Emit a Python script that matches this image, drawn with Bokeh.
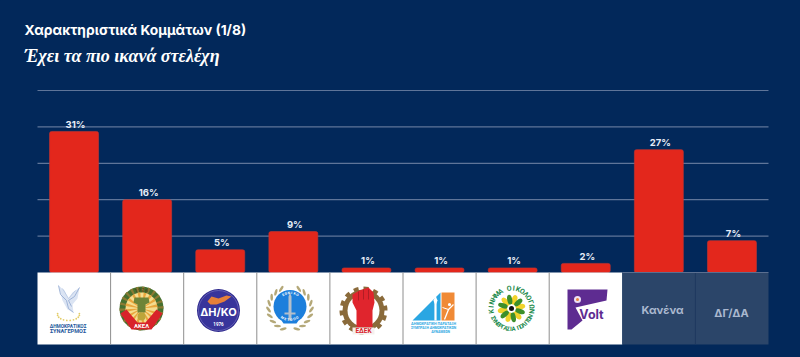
from bokeh.plotting import figure
from bokeh.models import Label, ColumnDataSource
from bokeh.core.properties import value
from bokeh.embed import file_html
from bokeh.resources import INLINE
import numpy as np

TITLE = "Χαρακτηριστικά Κομμάτων (1/8)"
SUBTITLE = "Έχει τα πιο ικανά στελέχη"
parties = ["ΔΗΣΥ", "ΑΚΕΛ", "ΔΗΚΟ", "ΕΛΑΜ", "ΕΔΕΚ", "ΔΗΠΑ", "Οικολόγοι", "Volt", "Κανένα", "ΔΓ/ΔΑ"]
values = [31, 16, 5, 9, 1, 1, 1, 2, 27, 7]
labels = ["31%", "16%", "5%", "9%", "1%", "1%", "1%", "2%", "27%", "7%"]
grid_ticks = [8, 16, 24, 32, 40]
text_cells = ["Κανένα", "ΔΓ/ΔΑ"]

BG = "#02285a"
W, H = 800, 357
LEFT, RIGHT = 37, 32
PX_Y = 4.55      # pixels per percent
BASE = 272       # page y of the baseline
CW = (W - LEFT - RIGHT) / 10

p = figure(width=W, height=H, output_backend="svg", toolbar_location=None,
           x_range=(-LEFT / CW, 10 + RIGHT / CW), y_range=(-(H - BASE) / PX_Y, BASE / PX_Y),
           min_border_left=0, min_border_right=0, min_border_top=0, min_border_bottom=0,
           background_fill_color=BG, border_fill_color=BG, outline_line_color=None)
p.xaxis.visible = False
p.yaxis.visible = False
p.xgrid.visible = False
p.ygrid.visible = False

X = lambda page_x: (page_x - LEFT) / CW
Y = lambda page_y: (BASE - page_y) / PX_Y
centers = [i + 0.5 for i in range(10)]

# grid lines spanning only the plot area
n_ticks = len(grid_ticks)
p.segment(x0=[0] * n_ticks, x1=[10] * n_ticks, y0=grid_ticks, y1=grid_ticks,
          line_color="#5f7599", line_width=1.2)

# bars and value labels
src = ColumnDataSource(dict(x=centers, top=values, lab=labels, party=parties))
p.vbar(x="x", top="top", bottom=0, width=0.67, source=src, fill_color="#e3271c",
       line_color="#c9352f", line_width=0.6, border_radius=2)
p.text(x="x", y="top", text="lab", source=src, text_align="center", text_baseline="bottom",
       x_offset=1.5, y_offset=-1.5, text_color="#e6edf7", text_font_size="9.5px",
       text_font=value("Inter"), text_font_style="bold")

# cell strip under the baseline
cell_bottom = Y(344)
p.quad(left=0, right=8, top=0, bottom=cell_bottom, fill_color="white", line_color=None)
p.quad(left=8, right=10, top=0, bottom=cell_bottom, fill_color="#2b4569", line_color=None)
p.segment(x0=list(range(1, 8)), x1=list(range(1, 8)), y0=[0] * 7, y1=[cell_bottom] * 7,
          line_color="#8e8e8e", line_width=1)
p.segment(x0=[9], x1=[9], y0=[0], y1=[cell_bottom], line_color="#1f3960", line_width=1)
p.segment(x0=[8], x1=[10], y0=[0], y1=[0], line_color="#5b6f90", line_width=1)

def circ(x, y, r, **k):
    p.circle(x=[X(x)], y=[Y(y)], radius=[r], radius_units="screen", line_color=k.pop("line_color", None), **k)

def poly(pts, color, **k):
    p.patch(x=[X(a) for a, _ in pts], y=[Y(b) for _, b in pts], fill_color=color, line_color=None, **k)

def polyline(pts, color, width=1):
    p.line(x=[X(a) for a, _ in pts], y=[Y(b) for _, b in pts], line_color=color, line_width=width)

def txt(x, y, s, size, color, angle=0, style="bold", font="Roboto"):
    p.text(x=[X(x)], y=[Y(y)], text=[s], text_align="center", text_baseline="middle", angle=[angle],
           text_font_size=f"{size}px", text_color=color, text_font=value(font), text_font_style=style)

def wedges(cx, cy, r, n, color, a0=0.0, a1=2 * np.pi, frac=0.5):
    step = (a1 - a0) / n
    st = [a0 + step * j for j in range(n)]
    p.wedge(x=[X(cx)] * n, y=[Y(cy)] * n, radius=[r] * n, radius_units="screen",
            start_angle=st, end_angle=[s + step * frac for s in st], fill_color=color, line_color=None)

def petals(cx, cy, dist, w, h, n, color, a0=0.0):
    a = a0 + 2 * np.pi * np.arange(n) / n
    p.ellipse(x=[X(cx + dist * np.cos(t)) for t in a], y=[Y(cy - dist * np.sin(t)) for t in a],
              width=[w] * n, height=[h] * n, width_units="screen", height_units="screen",
              angle=list(a), fill_color=color, line_color=None)

def leaves(cx, cy, r, angles, w, h, color, tilt):
    p.ellipse(x=[X(cx + r * np.cos(t)) for t in angles], y=[Y(cy - r * np.sin(t)) for t in angles],
              width=[w] * len(angles), height=[h] * len(angles), width_units="screen", height_units="screen",
              angle=[t + tilt for t in angles], fill_color=color, line_color=None)

def ring_text(cx, cy, r, s, a_start, a_end, size, color, inward=False):
    n = len(s)
    for j, ch in enumerate(s):
        a = a_start + (a_end - a_start) * (j + 0.5) / n
        rot = a - np.pi / 2 if not inward else a + np.pi / 2
        txt(cx + r * np.cos(a), cy - r * np.sin(a), ch, size, color, angle=rot)

# 1 winged figure and wordmark
poly([(58, 285), (64, 290), (68, 298), (72, 292), (79, 287), (77, 298), (72, 304), (73, 312), (67, 309), (62, 300)], "#dbe4f3")
polyline([(58, 285), (60, 294), (66, 300), (68, 308), (73, 312)], "#8ea6cf", 0.8)
polyline([(79, 287), (74, 296), (68, 300), (71, 306)], "#8ea6cf", 0.8)
polyline([(62, 288), (68, 298), (75, 290)], "#a8bcdc", 0.6)
ang = np.linspace(-0.15, np.pi + 0.15, 12)
p.scatter(x=[X(68 + 11 * np.cos(a)) for a in ang], y=[Y(314 + 6 * np.sin(a)) for a in ang], size=1.8,
          marker="circle", fill_color="#e3cd6a", line_color=None)
txt(67.5, 325.5, "ΔΗΜΟΚΡΑΤΙΚΟΣ", 4.8, "#25589c")
txt(67.5, 330, "ΣΥΝΑΓΕΡΜΟΣ", 5.6, "#25589c")

# 2 wreathed emblem
circ(141, 308, 22, fill_color="#46702f")
wedges(141, 308, 22, 22, "#8a7a34", frac=0.4)
circ(141, 308, 16, fill_color="#f4dc8f")
wedges(141, 308, 16, 16, "#e9a63c", a0=0.1, frac=0.45)
poly([(134, 297), (148, 297), (149, 302), (145, 304), (145, 312), (137, 312), (137, 304), (133, 302)], "#6d8438")
circ(141, 316, 4, fill_color="#bda53a")
poly([(120, 313), (126, 309), (137, 322), (145, 322), (156, 309), (162, 313), (151, 329), (131, 329)], "#d8232a")
txt(141, 325, "ΑΚΕΛ", 6, "white")
ring_text(141, 308, 19, "1926", 1.95, 1.2, 5, "#4f4318")

# 3 blue disc
circ(218, 310, 21.5, fill_color="#2f2a8e")
circ(218, 310, 20, fill_color="#38349b", line_color="#8f8cd0", line_width=0.5)
poly([(207, 301), (211, 296), (218, 298), (226, 295), (231, 296), (224, 301), (216, 304), (210, 304)], "#e5803a")
txt(218, 311.5, "ΔΗ/ΚΟ", 11, "white", font="Inter")
txt(218, 323, "1976", 4.5, "white")

# 4 laurel and sword
leaf_angles = [a for a in np.linspace(-1.25, 1.15, 9)] + [a for a in np.linspace(1.99, 4.39, 9)]
leaves(289.5, 308, 21.5, leaf_angles[:9], 7, 2.6, "#b4a878", 1.0)
leaves(289.5, 308, 21.5, leaf_angles[9:], 7, 2.6, "#b4a878", -1.0)
circ(289.5, 306, 16.5, fill_color="#1d7fdc")
poly([(281, 320), (298, 320), (296, 323), (283, 323)], "#1d7fdc")
poly([(288, 296), (289.5, 292), (291, 296), (291, 312), (295, 312), (295, 314), (291, 314), (291, 320), (288, 320), (288, 314), (284, 314), (284, 312), (288, 312)], "#b5bfca")
ring_text(289.5, 306, 13.5, "ΕΘΝΙΚΟ", 2.2, 0.9, 3.5, "white")
ring_text(289.5, 306, 13.5, "ΜΕΤΩΠΟ", 4.0, 5.4, 3.5, "white", inward=True)

# 5 gear and fist
wedges(363, 310, 24, 14, "#8a6a3a", frac=0.5)
circ(363, 310, 21, fill_color="#8a6a3a")
circ(363, 310, 16, fill_color="white")
poly([(352, 294), (359, 290), (368, 287), (373, 292), (374, 302), (372, 310), (372, 327), (356, 327), (356, 310), (352, 302)], "#e0252d")
p.segment(x0=[X(358), X(363), X(368)], x1=[X(358), X(363), X(368)], y0=[Y(291), Y(289), Y(289)],
          y1=[Y(300), Y(299), Y(299)], line_color="#a51c22", line_width=0.8)
poly([(352, 327), (374, 327), (374, 334), (352, 334)], "#f5f0ee")
txt(363, 330.5, "ΕΔΕΚ", 6.5, "#d9232b")

# 6 triangle and orange panel
poly([(412, 320), (440, 292), (440, 320)], "#2aa6e2")
poly([(441, 292), (454, 292), (454, 320), (441, 320)], "#f08a36")
polyline([(435, 302), (435, 320)], "white", 2.2)
poly([(433, 300), (435, 295), (437, 300), (436, 303), (434, 303)], "white")
polyline([(444, 319), (448, 309), (453, 304)], "white", 1.3)
polyline([(442, 307), (448, 309)], "white", 1)
circ(449, 304, 1.6, fill_color="white")
txt(433, 323, "ΔΗΜΟΚΡΑΤΙΚΗ ΠΑΡΑΤΑΞΗ", 3.6, "#2aa6e2")
txt(433, 327, "ΣΥΜΠΡΑΞΗ ΔΗΜΟΚΡΑΤΙΚΩΝ", 3.4, "#2aa6e2")
txt(440, 331, "ΔΥΝΑΜΕΩΝ", 3.4, "#2aa6e2")

# 7 flower ring
petals(511, 308, 9, 10, 5.5, 6, "#f2d22a", a0=0.2)
petals(511, 308, 9, 10, 5, 6, "#3d8f2a", a0=0.2 + np.pi / 6)
circ(511, 308, 4, fill_color="white")
circ(511, 308, 2.5, fill_color="#111111")
ring_text(511, 308, 20, "ΚΙΝΗΜΑ ΟΙΚΟΛΟΓΩΝ", 3.4, -0.25, 7, "#1c8a4c")
ring_text(511, 308, 20, "ΣΥΝΕΡΓΑΣΙΑ ΠΟΛΙΤΩΝ", 3.55, 5.95, 6, "#1c8a4c", inward=True)

# 8 purple mark
poly([(567, 289), (607, 289), (606, 300), (575, 307), (582, 320), (571, 329), (567, 329)], "#5e2c91")
circ(577, 299, 3.5, fill_color="#ece0f5")
circ(577, 299, 1.5, fill_color="#e8873a")
txt(591, 314, "Volt", 12.5, "#5e2c91", font="Inter")

# plain text cells
txt(662, 309, text_cells[0], 11, "#aab8cf", font="Inter")
txt(731, 312, text_cells[1], 11, "#aab8cf", font="Inter")

# titles
p.add_layout(Label(x=X(24), y=Y(29), text=TITLE, text_color="white", text_baseline="alphabetic",
                   text_font="Inter", text_font_size="13.8px", text_font_style="bold"))
p.add_layout(Label(x=X(24), y=Y(55), text=SUBTITLE, text_color="white", text_baseline="alphabetic",
                   text_font="Liberation Serif", text_font_size="18px", text_font_style="bold italic"))

html = file_html(p, INLINE).replace("<head>", f"<head><style>html,body{{background:{BG};}}</style>", 1)
open("out.html", "w").write(html)
